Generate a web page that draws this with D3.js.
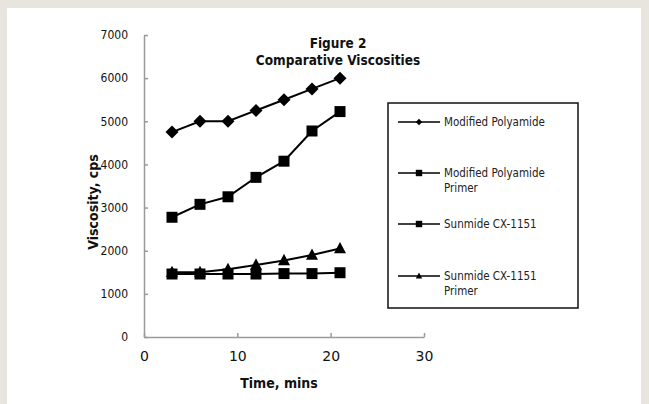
<!DOCTYPE html>
<html>
<head>
<meta charset="utf-8">
<script src="https://cdn.jsdelivr.net/npm/d3@7"></script>
<style>
  body { margin: 0; background: #e8e4de; }
  svg { display: block; }
</style>
</head>
<body>
<div id="chart"></div>
<script>
var width = 649;
var height = 404;

// data
var times = [3, 6, 9, 12, 15, 18, 21];
var modPolyamide = [4750, 5000, 5000, 5250, 5500, 5750, 6000];
var modPolyamidePrimer = [2775, 3075, 3250, 3700, 4075, 4775, 5225];
var sunmide = [1460, 1460, 1460, 1460, 1470, 1470, 1490];
var sunmidePrimer = [1500, 1500, 1570, 1670, 1775, 1900, 2050];
var seriesNames = [["Modified Polyamide"], ["Modified Polyamide", "Primer"], ["Sunmide CX-1151"], ["Sunmide CX-1151", "Primer"]];
var seriesMarkers = ["diamond", "square", "square", "triangle"];
var xTicks = [0, 10, 20, 30];
var yTicks = [0, 1000, 2000, 3000, 4000, 5000, 6000, 7000];

var allSeries = [modPolyamide, modPolyamidePrimer, sunmide, sunmidePrimer];

var svg = d3.select('#chart')
  .append('svg')
  .attr('width', width)
  .attr('height', height);

// white panel
svg.append('rect')
  .attr('x', 7).attr('y', 8)
  .attr('width', 634).attr('height', height - 8)
  .attr('fill', '#ffffff');

var x = d3.scaleLinear().domain([0, 30]).range([144, 424]);
var y = d3.scaleLinear().domain([0, 7000]).range([337, 35]);

var axisColor = '#9a9a9a';

// x axis, ticks point inward
var xAxis = svg.append('g')
  .attr('transform', 'translate(0,337)')
  .call(d3.axisBottom(x).tickValues(xTicks).tickSizeInner(-4).tickSizeOuter(0).tickPadding(14));
xAxis.select('.domain').attr('stroke', axisColor).attr('stroke-width', 1.5);
xAxis.selectAll('.tick line').attr('stroke', axisColor).attr('stroke-width', 1.5);
xAxis.selectAll('.tick text')
  .attr('fill', '#111')
  .style('font-family', '"DejaVu Sans", sans-serif')
  .style('font-size', '14px');

var yAxis = svg.append('g')
  .attr('transform', 'translate(144,0)')
  .call(d3.axisLeft(y).tickValues(yTicks).tickFormat(d3.format('d')).tickSizeInner(-4).tickSizeOuter(0).tickPadding(16));
yAxis.select('.domain').attr('stroke', axisColor).attr('stroke-width', 1.5);
yAxis.selectAll('.tick line').attr('stroke', axisColor).attr('stroke-width', 1.5);
yAxis.selectAll('.tick text')
  .attr('fill', '#111')
  .style('font-family', '"DejaVu Sans Condensed", "DejaVu Sans", sans-serif')
  .style('font-size', '12px');

// titles
var title = svg.append('text')
  .attr('text-anchor', 'middle')
  .style('font-family', '"DejaVu Sans Condensed", "DejaVu Sans", sans-serif')
  .style('font-weight', 'bold')
  .style('font-size', '13.5px')
  .attr('fill', '#111');
title.append('tspan').attr('x', 338).attr('y', 48).text('Figure 2');
title.append('tspan').attr('x', 338).attr('y', 65).text('Comparative Viscosities');

svg.append('text')
  .attr('transform', 'translate(98,202) rotate(-90)')
  .attr('text-anchor', 'middle')
  .style('font-family', '"DejaVu Sans Condensed", "DejaVu Sans", sans-serif')
  .style('font-weight', 'bold')
  .style('font-size', '14px')
  .attr('fill', '#111')
  .text('Viscosity, cps');

svg.append('text')
  .attr('x', 279).attr('y', 388)
  .attr('text-anchor', 'middle')
  .style('font-family', '"DejaVu Sans Condensed", "DejaVu Sans", sans-serif')
  .style('font-weight', 'bold')
  .style('font-size', '14px')
  .attr('fill', '#111')
  .text('Time, mins');

// filled marker shapes
function filledPath(kind, r) {
  if (kind === 'diamond') return 'M0,' + (-r) + 'L' + r + ',0L0,' + r + 'L' + (-r) + ',0Z';
  if (kind === 'square') return 'M' + (-r) + ',' + (-r) + 'h' + (2 * r) + 'v' + (2 * r) + 'h' + (-2 * r) + 'Z';
  return 'M0,' + (-r * 1.1) + 'L' + r + ',' + (r * 0.8) + 'L' + (-r) + ',' + (r * 0.8) + 'Z';
}

var line = d3.line()
  .x(function(d, i) { return x(times[i]); })
  .y(function(d) { return y(d); });

var markerRadius = [6.5, 5.5, 5.5, 6];

allSeries.forEach(function(vals) {
  svg.append('path')
    .datum(vals)
    .attr('d', line)
    .attr('fill', 'none')
    .attr('stroke', '#000')
    .attr('stroke-width', 2);
});
allSeries.forEach(function(vals, s) {
  svg.selectAll('.m' + s)
    .data(vals)
    .enter()
    .append('path')
    .attr('class', 'm' + s)
    .attr('transform', function(d, i) { return 'translate(' + x(times[i]) + ',' + y(d) + ')'; })
    .attr('d', filledPath(seriesMarkers[s], markerRadius[s]))
    .attr('fill', '#000');
});

// legend
svg.append('rect')
  .attr('x', 388).attr('y', 103)
  .attr('width', 190).attr('height', 205)
  .attr('fill', '#fff')
  .attr('stroke', '#111')
  .attr('stroke-width', 1.5);

var legendY = [122, 173, 224, 276];
var legend = svg.selectAll('.legend-item')
  .data(seriesNames)
  .enter()
  .append('g')
  .attr('class', 'legend-item')
  .attr('transform', function(d, i) { return 'translate(0,' + legendY[i] + ')'; });

legend.append('line')
  .attr('x1', 398).attr('x2', 440)
  .attr('y1', 0).attr('y2', 0)
  .attr('stroke', '#000')
  .attr('stroke-width', 1.5);
legend.append('path')
  .attr('transform', 'translate(419,0)')
  .attr('d', function(d, i) { return filledPath(seriesMarkers[i], 3.2); })
  .attr('fill', '#000');
legend.append('text')
  .style('font-family', '"DejaVu Sans Condensed", "DejaVu Sans", sans-serif')
  .style('font-size', '11.5px')
  .attr('fill', '#222')
  .selectAll('tspan')
  .data(function(d) { return d; })
  .enter()
  .append('tspan')
  .attr('x', 444)
  .attr('y', function(d, j) { return 4 + j * 15; })
  .text(function(d) { return d; });
</script>
</body>
</html>
